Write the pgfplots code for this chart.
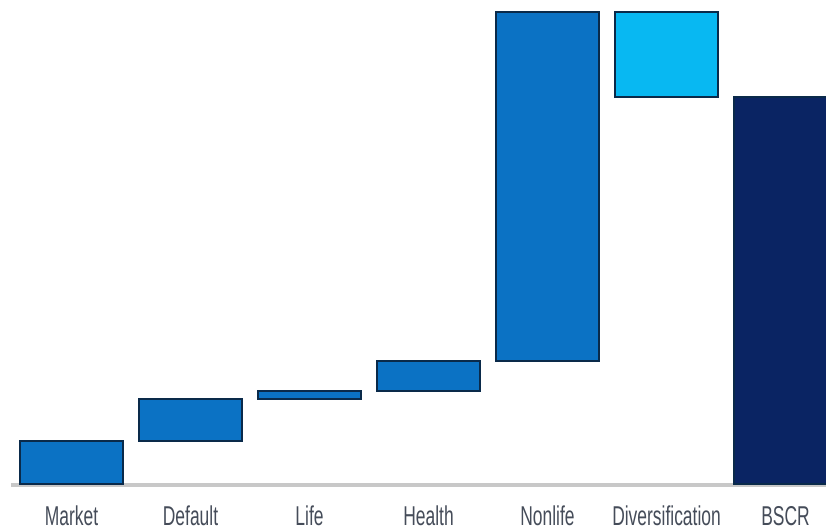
\documentclass[border=0pt]{standalone}
\usepackage{pgfplots}
\pgfplotsset{compat=1.18}
\usepackage{fontspec}
\setmainfont{Liberation Sans}
\newfontfamily\labelfont{Liberation Sans}[FakeStretch=0.64]
\definecolor{midblue}{HTML}{0B72C4}
\definecolor{lightblue}{HTML}{08B8F2}
\definecolor{navy}{HTML}{0A2463}
\definecolor{edge}{HTML}{0A2A4A}
\definecolor{labelgray}{HTML}{454C59}
\definecolor{axisgray}{HTML}{C8C8C8}
\begin{document}
\begin{tikzpicture}
\begin{axis}[
  name=ax,
  scale only axis,
  width=8.26cm, height=5.30cm,
  xmin=-0.601, xmax=6.340,
  ymin=-46, ymax=484,
  clip=true,
  axis line style={draw=none},
  tick style={draw=none},
  ytick=\empty,
  xtick={0,1,2,3,4,5,6},
  xticklabels={Market,Default,Life,Health,Nonlife,Diversification,BSCR},
  xticklabel style={anchor=base, yshift=0.045cm, inner sep=0pt,
    font=\labelfont\fontsize{7.75}{8}\selectfont, text=labelgray},
  ybar stacked,
  bar width=0.866,
]
% invisible base
\addplot[draw=none, fill=none] coordinates {(0,0) (1,43) (2,85) (3,93) (4,123) (5,387) (6,0)};
% risk modules
\addplot[fill=midblue, draw=edge, line width=0.7pt] coordinates {(0,43) (1,42) (2,8) (3,30) (4,349) (5,0) (6,0)};
% diversification
\addplot[fill=lightblue, draw=edge, line width=0.7pt] coordinates {(0,0) (1,0) (2,0) (3,0) (4,0) (5,85) (6,0)};
% BSCR
\addplot[fill=navy, draw=edge, line width=0.7pt] coordinates {(0,0) (1,0) (2,0) (3,0) (4,0) (5,0) (6,387)};
\draw[axisgray, line width=0.9pt] (axis cs:-0.51,-1) -- (axis cs:6.4,-1);
\end{axis}
\pgfresetboundingbox
\path (ax.south west) rectangle (ax.north east);
\end{tikzpicture}
\end{document}
